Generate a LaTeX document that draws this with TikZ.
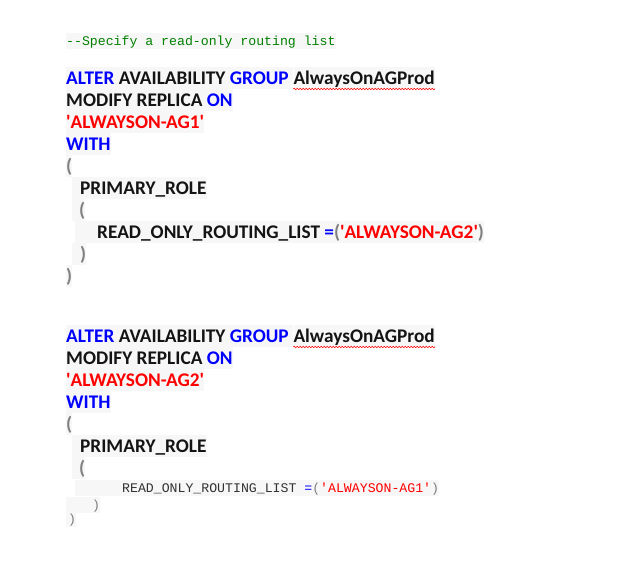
\documentclass[tikz,border=0pt]{standalone}
\usepackage{fontspec}
\setmainfont{Carlito}
\newfontfamily\monof{Liberation Mono}
\usetikzlibrary{decorations.pathmorphing}
\definecolor{kw}{RGB}{0,0,255}
\definecolor{str}{RGB}{255,0,0}
\definecolor{cmt}{RGB}{0,128,0}
\definecolor{par}{RGB}{128,128,128}
\definecolor{bgc}{RGB}{247,247,247}
\definecolor{txt}{RGB}{20,20,20}
\definecolor{mtxt}{RGB}{50,50,50}
\newcommand\sq{\XeTeXglyph\XeTeXcharglyph"27 }
\begin{document}
\begin{tikzpicture}[x=1pt,y=-1pt,
  codeline/.style={anchor=base west, inner sep=0pt, fill=bgc, text height=17pt, text depth=5pt,
    font=\fontsize{19.3}{22}\selectfont\bfseries, text=txt},
  monoline/.style={anchor=base west, inner sep=0pt, fill=bgc, text height=12pt, text depth=4pt,
    font=\fontsize{13.2}{16}\selectfont\monof, text=mtxt},
  squig/.style={draw=str, decorate, decoration={snake, amplitude=0.8pt, segment length=3pt}, line width=0.6pt}]
\useasboundingbox (0,0) rectangle (618,573);
\fill[white] (0,0) rectangle (618,573);
% comment
\node[monoline] (c) at (66,45) {\color{cmt}-\kern0pt-Specify a read-only routing list};
% block 1
\node[codeline] (a1) at (66,84) {\color{kw}ALTER \color{txt}AVAILABILITY \color{kw}GROUP\ \kern0pt};
\node[codeline] (w1) at (a1.base east) {AlwaysOnAGProd};
\draw[squig] ([yshift=-5pt]w1.base west) -- ([yshift=-5pt]w1.base east);
\node[codeline] (a2) at (66,106) {MODIFY REPLICA \color{kw}ON};
\node[codeline] (a3) at (66,128) {\color{str}\sq ALWAYSON-AG1\sq};
\node[codeline] (a4) at (66,150) {\color{kw}WITH};
\node[codeline] (a5) at (66,172) {\color{par}(};
\node[codeline] (a6) at (72,194) {\hspace*{8pt}PRIMARY\_ROLE};
\node[codeline] (a7) at (72,216) {\hspace*{7pt}\color{par}(};
\node[codeline] (a8) at (75,238) {\hspace*{22pt}READ\_ONLY\_ROUTING\_LIST \color{kw}=\color{par}(\color{str}\sq ALWAYSON-AG2\sq\color{par})};
\node[codeline] (a9) at (72,260) {\hspace*{8pt}\color{par})};
\node[codeline] (a10) at (66,282) {\color{par})};
% block 2
\node[codeline] (b1) at (66,342) {\color{kw}ALTER \color{txt}AVAILABILITY \color{kw}GROUP\ \kern0pt};
\node[codeline] (w2) at (b1.base east) {AlwaysOnAGProd};
\draw[squig] ([yshift=-5pt]w2.base west) -- ([yshift=-5pt]w2.base east);
\node[codeline] (b2) at (66,364) {MODIFY REPLICA \color{kw}ON};
\node[codeline] (b3) at (66,386) {\color{str}\sq ALWAYSON-AG2\sq};
\node[codeline] (b4) at (66,408) {\color{kw}WITH};
\node[codeline] (b5) at (66,430) {\color{par}(};
\node[codeline] (b6) at (72,452) {\hspace*{8pt}PRIMARY\_ROLE};
\node[codeline] (b7) at (72,474) {\hspace*{7pt}\color{par}(};
\node[monoline] (b8) at (75,492) {\hspace*{47pt}READ\_ONLY\_ROUTING\_LIST \color{kw}=\color{par}(\color{str}\sq ALWAYSON-AG1\sq\color{par})};
\node[monoline] (b9) at (66,509) {\hspace*{26pt}\color{par})};
\node[monoline] (b10) at (66,523) {\hspace*{2pt}\color{par})};
\end{tikzpicture}
\end{document}
